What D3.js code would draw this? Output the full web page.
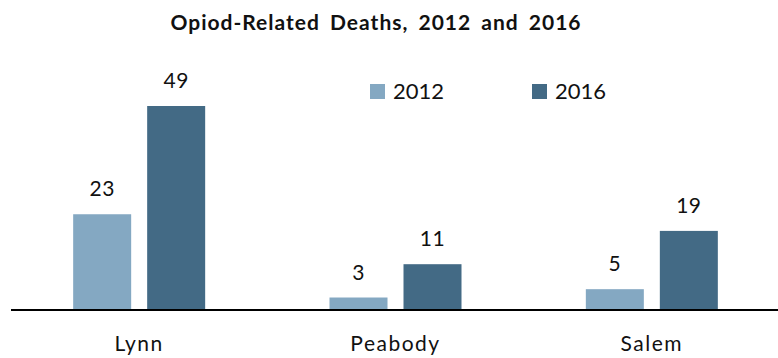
<!DOCTYPE html>
<html>
<head>
<meta charset="utf-8">
<script src="https://cdn.jsdelivr.net/npm/d3@7"></script>
<style>
  body { margin: 0; background: #fff; }
  text { font-family: Lato, "Open Sans", sans-serif; fill: #111; }
</style>
</head>
<body>
<div id="chart"></div>
<script>
const chartWidth = 778;
const chartHeight = 358;

const cities = ["Lynn", "Peabody", "Salem"];
const years = ["2012", "2016"];
const deaths2012 = [23, 3, 5];
const deaths2016 = [49, 11, 19];
const colors = ["#84a8c2", "#436a85"];

const baseline = 310;

var svg = d3.select("#chart")
  .append("svg")
  .attr("width", chartWidth)
  .attr("height", chartHeight);

// one band per city, then one sub band per year
var x0 = d3.scaleBand()
  .domain(cities)
  .range([11, 780])
  .padding(0);

var x1 = d3.scaleBand()
  .domain(years)
  .range([-66, 66])
  .paddingInner(16 / 74)
  .paddingOuter(0);

var y = d3.scaleLinear()
  .domain([0, 49])
  .range([baseline, 106]);

var color = d3.scaleOrdinal().domain(years).range(colors);

var rows = cities.map((c, i) => ({
  city: c,
  values: [
    { year: "2012", value: deaths2012[i] },
    { year: "2016", value: deaths2016[i] }
  ]
}));

svg.append("text")
  .attr("x", 376)
  .attr("y", 30)
  .attr("text-anchor", "middle")
  .style("font-size", "21px")
  .style("font-weight", "bold")
  .style("letter-spacing", "1px")
  .style("word-spacing", "4px")
  .text("Opiod-Related Deaths, 2012 and 2016");

var groups = svg.selectAll("g.city")
  .data(rows)
  .enter().append("g")
  .attr("class", "city")
  .attr("transform", d => "translate(" + (x0(d.city) + x0.bandwidth() / 2) + ",0)");

groups.selectAll("rect")
  .data(d => d.values)
  .enter().append("rect")
  .attr("x", d => x1(d.year))
  .attr("width", x1.bandwidth())
  .attr("y", d => y(d.value))
  .attr("height", d => baseline - y(d.value))
  .attr("fill", d => color(d.year));

groups.selectAll("text.val")
  .data(d => d.values)
  .enter().append("text")
  .attr("class", "val")
  .attr("x", d => x1(d.year) + x1.bandwidth() / 2)
  .attr("y", d => y(d.value) - 18)
  .attr("text-anchor", "middle")
  .style("font-size", "21px")
  .style("letter-spacing", "0.5px")
  .text(d => d.value);

// baseline / x axis
var xAxis = d3.axisBottom(x0).tickSize(0);

var axisG = svg.append("g")
  .attr("transform", "translate(0," + baseline + ")")
  .call(xAxis);

axisG.select(".domain")
  .attr("d", "M11,0H778")
  .attr("stroke", "#000")
  .attr("stroke-width", 2);

axisG.selectAll(".tick text")
  .attr("dy", null)
  .attr("y", 41)
  .style("font-size", "21px")
  .style("letter-spacing", "1.5px")
  .style("font-family", "Lato, 'Open Sans', sans-serif")
  .attr("fill", "#111");

// legend
var legendX = [370, 532];
var legend = svg.selectAll("g.legend")
  .data(years)
  .enter().append("g")
  .attr("class", "legend")
  .attr("transform", (d, i) => "translate(" + legendX[i] + ",84)");

legend.append("rect")
  .attr("width", 15)
  .attr("height", 15)
  .attr("fill", d => color(d));

legend.append("text")
  .attr("x", 23)
  .attr("y", 15)
  .style("font-size", "22px")
  .text(d => d);
</script>
</body>
</html>
